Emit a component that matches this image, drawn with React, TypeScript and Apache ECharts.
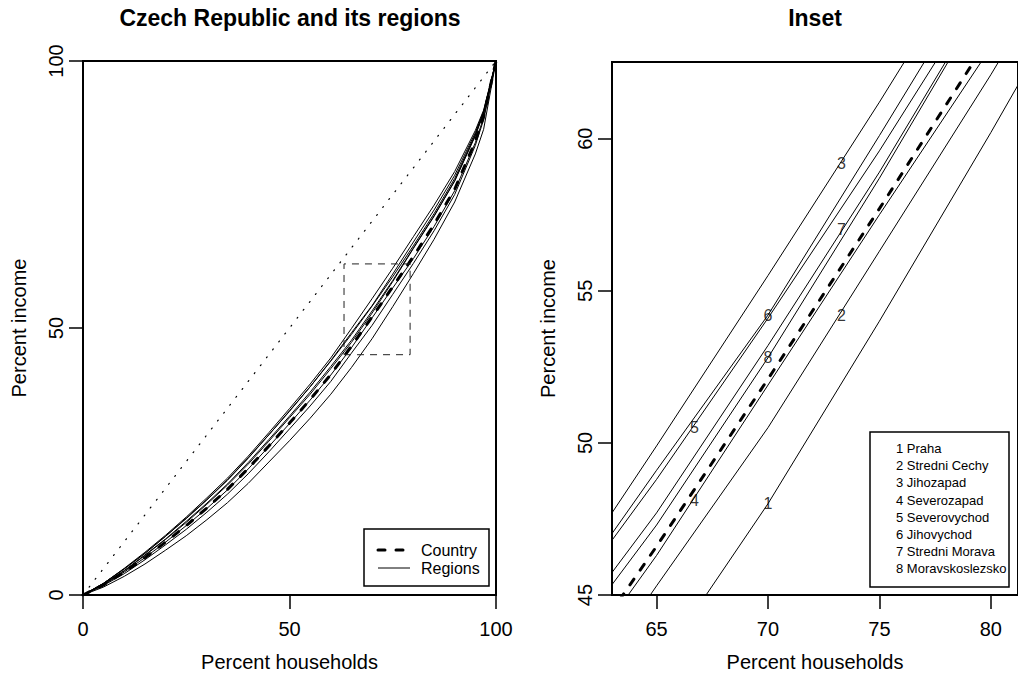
import React, { useEffect, useRef } from "react";
import * as echarts from "echarts";

const FONT = "'Liberation Sans', Arial, Helvetica, sans-serif";

// Cumulative percent of households (x) for the Lorenz curves
const pct = [0, 5, 10, 15, 20, 25, 30, 35, 40, 45, 50, 55, 60, 65, 70, 75, 80, 85, 90, 95, 97, 100];

// Cumulative percent of income (y)
const country = [0, 1.9, 4.3, 7.0, 9.9, 13.0, 16.3, 19.8, 23.7, 27.9, 32.2, 36.6, 41.3, 46.6, 52.1, 57.7, 63.4, 69.4, 76.0, 85.0, 89.6, 100];
const praha = [0, 1.5, 3.5, 5.8, 8.4, 11.1, 14.1, 17.3, 20.9, 24.9, 28.9, 33.1, 37.6, 42.6, 48.0, 54.0, 60.2, 66.6, 73.6, 82.6, 87.2, 100];
const stredniCechy = [0, 1.8, 4.0, 6.6, 9.4, 12.3, 15.5, 18.9, 22.7, 26.8, 31.1, 35.4, 40.0, 45.3, 50.5, 56.3, 62.1, 68.2, 75.0, 84.2, 89.0, 100];
const jihozapad = [0, 2.2, 5.0, 8.0, 11.2, 14.6, 18.2, 21.9, 26.0, 30.4, 34.9, 39.5, 44.4, 49.9, 55.5, 61.2, 67.1, 73.0, 79.3, 87.0, 90.8, 100];
const severozapad = [0, 1.9, 4.3, 7.0, 9.9, 13.0, 16.2, 19.7, 23.6, 27.8, 32.1, 36.5, 41.2, 46.3, 51.9, 57.5, 63.0, 69.0, 75.7, 84.7, 89.4, 100];
const severovychod = [0, 2.2, 4.9, 7.8, 11.0, 14.3, 17.8, 21.5, 25.6, 30.0, 34.4, 39.0, 43.8, 48.8, 54.1, 59.6, 65.4, 71.4, 78.0, 86.3, 90.4, 100];
const jihovychod = [0, 2.2, 4.9, 7.8, 11.0, 14.4, 17.9, 21.6, 25.7, 30.0, 34.5, 39.0, 43.9, 49.1, 54.2, 60.1, 66.1, 72.1, 78.6, 86.6, 90.6, 100];
const stredniMorava = [0, 2.1, 4.6, 7.5, 10.5, 13.8, 17.2, 20.8, 24.8, 29.1, 33.5, 38.0, 42.8, 47.7, 53.2, 58.9, 65.0, 71.0, 77.6, 86.1, 90.3, 100];
const moravskoslezsko = [0, 2.0, 4.5, 7.4, 10.4, 13.6, 17.0, 20.6, 24.5, 28.8, 33.2, 37.6, 42.4, 47.3, 52.8, 58.7, 64.9, 70.9, 77.5, 86.0, 90.2, 100];

const regionNames = ["Praha", "Stredni Cechy", "Jihozapad", "Severozapad", "Severovychod", "Jihovychod", "Stredni Morava", "Moravskoslezsko"];
const regions = [praha, stredniCechy, jihozapad, severozapad, severovychod, jihovychod, stredniMorava, moravskoslezsko];

// Number labels in the inset: [x, y, label]
const insetLabels: [number, number, string][] = [
  [70.0, 48.0, "1"],
  [73.3, 54.2, "2"],
  [73.3, 59.2, "3"],
  [66.7, 48.1, "4"],
  [66.7, 50.5, "5"],
  [70.0, 54.2, "6"],
  [73.3, 57.0, "7"],
  [70.0, 52.8, "8"],
];

// Inset window drawn on the main panel
const insetX = [63.2, 79.2];
const insetY = [45, 62];

// Axis ranges and ticks
const mainTicks = [0, 50, 100];
const insetXRange = [63, 81.22];
const insetYRange = [45, 62.52];
const insetXTicks = [65, 70, 75, 80];
const insetYTicks = [45, 50, 55, 60];

const pairs = (ys: number[]) => pct.map((x, i) => [x, ys[i]]);

export default function App() {
  const ref = useRef<HTMLDivElement>(null);

  useEffect(() => {
    document.body.style.margin = "0";
    if (!ref.current) return;
    const chart = echarts.init(ref.current, undefined, { renderer: "svg" });

    const axisCommon = (ticks: number[]) => ({
      type: "value" as const,
      axisLine: { show: false },
      splitLine: { show: false },
      axisTick: { show: true, length: 14, customValues: ticks, lineStyle: { color: "#000", width: 1.5 } },
      axisLabel: { customValues: ticks, fontSize: 20, color: "#000", fontFamily: FONT },
      nameLocation: "middle" as const,
      nameTextStyle: { fontSize: 20, color: "#000", fontFamily: FONT },
    });

    const countryStyle = { color: "#000", width: 3, type: [7, 11], cap: "round" as const };
    const regionStyle = { color: "#000", width: 1 };

    const series: any[] = [];
    // main panel
    series.push({
      type: "line", xAxisIndex: 0, yAxisIndex: 0, symbol: "none", silent: true,
      data: [[0, 0], [100, 100]],
      lineStyle: { color: "#000", width: 1.2, type: [1, 9], cap: "round" },
    });
    regions.forEach((r, i) => {
      series.push({ type: "line", name: regionNames[i], xAxisIndex: 0, yAxisIndex: 0, symbol: "none", data: pairs(r), lineStyle: regionStyle });
    });
    series.push({ type: "line", name: "Country", xAxisIndex: 0, yAxisIndex: 0, symbol: "none", data: pairs(country), lineStyle: countryStyle });
    series.push({
      type: "line", xAxisIndex: 0, yAxisIndex: 0, symbol: "none",
      data: [[insetX[0], insetY[0]], [insetX[1], insetY[0]], [insetX[1], insetY[1]], [insetX[0], insetY[1]], [insetX[0], insetY[0]]],
      lineStyle: { color: "#222", width: 1, type: [7, 6] },
    });
    // inset panel
    regions.forEach((r, i) => {
      series.push({ type: "line", name: regionNames[i] + " inset", xAxisIndex: 1, yAxisIndex: 1, symbol: "none", data: pairs(r), lineStyle: regionStyle, clip: true });
    });
    series.push({ type: "line", name: "Country inset", xAxisIndex: 1, yAxisIndex: 1, symbol: "none", data: pairs(country), lineStyle: countryStyle, clip: true });
    series.push({
      type: "scatter", xAxisIndex: 1, yAxisIndex: 1, symbolSize: 1,
      itemStyle: { color: "rgba(0,0,0,0)" },
      data: insetLabels.map((d) => ({ value: [d[0], d[1]], label: { formatter: d[2], color: "#000" } })),
      label: { show: true, position: "inside", fontSize: 16, color: "#000", fontFamily: FONT, textBorderWidth: 0 },
      z: 5,
    });

    const legendRight = regionNames.map((n, i) => ({
      type: "text", left: 896, top: 442 + i * 17.2,
      style: { text: `${i + 1} ${n}`, fontSize: 13, fill: "#000", fontFamily: FONT },
    }));

    chart.setOption({
      animation: false,
      backgroundColor: "#fff",
      grid: [
        { left: 83, top: 61, width: 413, height: 534, show: true, borderColor: "#000", borderWidth: 2, backgroundColor: "transparent" },
        { left: 612, top: 62, right: -2, height: 533, show: true, borderColor: "#000", borderWidth: 2, backgroundColor: "transparent" },
      ],
      xAxis: [
        { ...axisCommon(mainTicks), gridIndex: 0, min: 0, max: 100, name: "Percent households", nameGap: 57,
          axisLabel: { ...axisCommon(mainTicks).axisLabel, margin: 24 } },
        { ...axisCommon(insetXTicks), gridIndex: 1, min: insetXRange[0], max: insetXRange[1], name: "Percent households", nameGap: 57,
          axisLabel: { ...axisCommon(insetXTicks).axisLabel, margin: 24 } },
      ],
      yAxis: [
        { ...axisCommon(mainTicks), gridIndex: 0, min: 0, max: 100, name: "Percent income", nameGap: 54, nameRotate: 90,
          axisLabel: { ...axisCommon(mainTicks).axisLabel, rotate: 90, margin: 17 } },
        { ...axisCommon(insetYTicks), gridIndex: 1, min: insetYRange[0], max: insetYRange[1], name: "Percent income", nameGap: 54, nameRotate: 90,
          axisLabel: { ...axisCommon(insetYTicks).axisLabel, rotate: 90, margin: 17 } },
      ],
      series,
      graphic: [
        { type: "text", x: 290, y: 18, style: { text: "Czech Republic and its regions", fontSize: 23, fontWeight: "bold", fill: "#000", fontFamily: FONT, textAlign: "center", textVerticalAlign: "middle" } },
        { type: "text", x: 815, y: 18, style: { text: "Inset", fontSize: 23, fontWeight: "bold", fill: "#000", fontFamily: FONT, textAlign: "center", textVerticalAlign: "middle" } },
        // main legend
        { type: "rect", shape: { x: 364, y: 529, width: 125, height: 57 }, style: { fill: "#fff", stroke: "#000", lineWidth: 1.5 }, z: 10 },
        { type: "line", shape: { x1: 378, y1: 550, x2: 410, y2: 550 }, style: { stroke: "#000", lineWidth: 3, lineDash: [7, 11], lineCap: "round" }, z: 11 },
        { type: "line", shape: { x1: 378, y1: 568, x2: 410, y2: 568 }, style: { stroke: "#000", lineWidth: 1 }, z: 11 },
        { type: "text", x: 421, y: 550, style: { text: "Country", fontSize: 16, fill: "#000", fontFamily: FONT, textVerticalAlign: "middle" }, z: 11 },
        { type: "text", x: 421, y: 568, style: { text: "Regions", fontSize: 16, fill: "#000", fontFamily: FONT, textVerticalAlign: "middle" }, z: 11 },
        // inset legend
        { type: "rect", shape: { x: 870, y: 432, width: 139, height: 155 }, style: { fill: "#fff", stroke: "#000", lineWidth: 1.5 }, z: 10 },
        ...legendRight.map((t) => ({ ...t, z: 11 })),
      ],
    });

    return () => chart.dispose();
  }, []);

  return <div ref={ref} style={{ width: 1018, height: 677 }} />;
}
